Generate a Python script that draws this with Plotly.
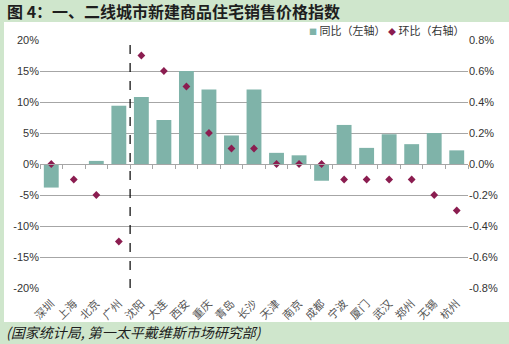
import plotly.graph_objects as go

# 城市（一线 | 二线）
cities = ["深圳", "上海", "北京", "广州", "沈阳", "大连", "西安", "重庆", "青岛", "长沙",
          "天津", "南京", "成都", "宁波", "厦门", "武汉", "郑州", "无锡", "杭州"]
# 同比（%，左轴）
yoy = [-3.8, 0.0, 0.5, 9.4, 10.8, 7.1, 15.0, 12.0, 4.6, 12.0,
       1.8, 1.4, -2.7, 6.3, 2.6, 4.8, 3.2, 5.0, 2.2]
# 环比（%，右轴）
mom = [0.0, -0.1, -0.2, -0.5, 0.7, 0.6, 0.5, 0.2, 0.1, 0.1,
       0.0, 0.0, 0.0, -0.1, -0.1, -0.1, -0.1, -0.2, -0.3]

left_ticks = [20, 15, 10, 5, 0, -5, -10, -15, -20]
right_ticks = [0.8, 0.6, 0.4, 0.2, 0.0, -0.2, -0.4, -0.6, -0.8]

W, H = 509, 344
ML, MR, MT, MB = 40, 41, 40, 56
PW, PH = W - ML - MR, H - MT - MB

GREEN = "#cfe6cc"
BAR = "#7fb3a9"
DOT = "#8b1d50"
GRID = "#a6a6a6"
TXT = "#333333"


def px_x(p):
    return (p - ML) / PW


def px_y(p):
    return (H - MB - p) / PH


fig = go.Figure()
fig.add_trace(go.Bar(
    x=cities, y=[v / 100 for v in yoy], name="同比（左轴）", showlegend=False,
    marker=dict(color=BAR, line=dict(width=0)), width=0.66,
))
fig.add_trace(go.Scatter(
    x=cities, y=[v / 100 for v in mom], name="环比（右轴）", yaxis="y2", showlegend=False,
    mode="markers", marker=dict(symbol="diamond", size=6, color=DOT),
))
# 零值基线及分类刻度
fig.add_trace(go.Scatter(x=cities, y=[None] * len(cities), xaxis="x2",
                         showlegend=False, hoverinfo="skip"))

legend_font = dict(family="Noto Sans CJK SC", size=11, color=TXT)

fig.update_layout(
    width=W, height=H,
    margin=dict(l=ML, r=MR, t=MT, b=MB),
    paper_bgcolor=GREEN, plot_bgcolor="white",
    font=dict(family="Liberation Sans, Arial, sans-serif", size=11, color=TXT),
    xaxis=dict(
        type="category", range=[-0.5, len(cities) - 0.5], showgrid=False,
        tickangle=-45, ticks="outside", ticklen=4, tickcolor="rgba(0,0,0,0)",
        showline=False, zeroline=False,
        tickfont=dict(family="Noto Sans CJK SC", size=11, color="#555555"),
    ),
    xaxis2=dict(
        type="category", overlaying="x", anchor="free", position=0.5,
        range=[-0.5, len(cities) - 0.5], showgrid=False, showticklabels=False,
        showline=True, linecolor=GRID, linewidth=1,
        ticks="outside", tickson="boundaries", ticklen=4, tickcolor=GRID,
    ),
    yaxis=dict(
        range=[-0.2, 0.2], tickvals=[v / 100 for v in left_ticks],
        ticktext=[f"{v}%" for v in left_ticks], showgrid=True, gridcolor=GRID,
        gridwidth=1, zeroline=False, showline=False, ticks="",
        tickfont=dict(size=11, color=TXT),
    ),
    yaxis2=dict(
        range=[-0.008, 0.008], overlaying="y", side="right",
        tickvals=[v / 100 for v in right_ticks],
        ticktext=[f"{v:.1f}%" for v in right_ticks], showgrid=False,
        zeroline=False, showline=False, ticks="",
        tickfont=dict(size=11, color=TXT),
    ),
    shapes=[
        dict(type="rect", xref="paper", yref="paper", layer="below",
             x0=px_x(4), x1=px_x(W + 2), y0=px_y(322), y1=px_y(22),
             fillcolor="white", line=dict(width=0)),
        dict(type="line", xref="x", yref="paper", x0=3.5, x1=3.5, y0=0, y1=1,
             line=dict(color="black", width=1.2, dash="dash")),
    ],
    annotations=[
        dict(text="<b>图 4：一、二线城市新建商品住宅销售价格指数</b>", xref="paper", yref="paper",
             x=px_x(5), y=px_y(11), xanchor="left", yanchor="middle", showarrow=False,
             font=dict(family="Noto Sans CJK SC", size=16, color="#1e1e1e")),
        dict(text=f"<span style='color:{BAR};font-size:8px'>■</span> 同比（左轴）",
             xref="paper", yref="paper",
             x=px_x(307), y=px_y(30), xanchor="left", yanchor="middle", showarrow=False,
             font=legend_font),
        dict(text=f"<span style='color:{DOT};font-size:8px'>◆</span> 环比（右轴）",
             xref="paper", yref="paper",
             x=px_x(386), y=px_y(30), xanchor="left", yanchor="middle", showarrow=False,
             font=legend_font),
        dict(text="<i>(国家统计局, 第一太平戴维斯市场研究部)</i>", xref="paper", yref="paper",
             x=px_x(4), y=px_y(332), xanchor="left", yanchor="middle", showarrow=False,
             font=dict(family="Noto Sans CJK SC", size=14, color="#1e1e1e")),
    ],
)

fig.write_html("out.html")
